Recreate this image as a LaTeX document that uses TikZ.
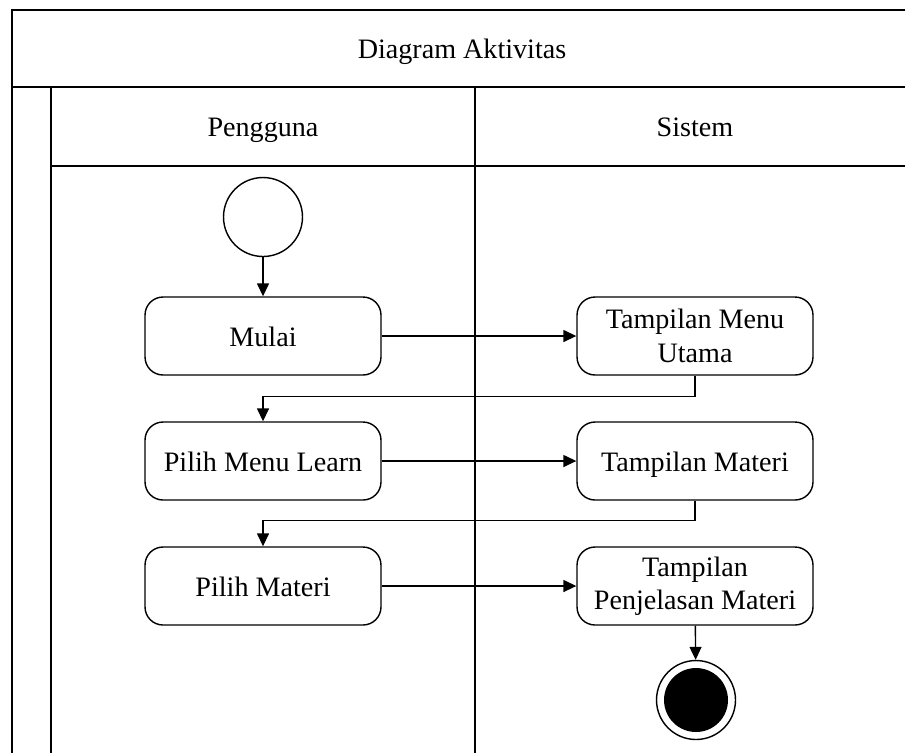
\documentclass[tikz,border=0pt]{standalone}
\usepackage{fontspec}
\setmainfont{Liberation Serif}
\usepackage{tikz}
\usetikzlibrary{shapes,arrows.meta,positioning,calc}

\begin{document}
\begin{tikzpicture}[
  x=0.02cm, y=-0.02cm,
  lane/.style={draw, line width=0.9pt},
  label/.style={font=\fontsize{16}{19}\selectfont, text height=15pt, text depth=3pt},
  activity/.style={draw, rectangle, rounded corners=0.36cm, line width=0.8pt, minimum width=4.72cm, minimum height=1.56cm, align=center, font=\fontsize{16}{19}\selectfont},
  oneline/.style={text height=15pt, text depth=3pt},
  startnode/.style={draw, circle, line width=0.8pt, minimum size=1.58cm, inner sep=0pt},
  endnode/.style={draw, circle, line width=0.8pt, minimum size=1.58cm, inner sep=0pt, path picture={\fill[black] (path picture bounding box.center) circle (0.64cm);}},
  arr/.style={-{Triangle[length=0.26cm, width=0.24cm]}, line width=0.8pt}
]
  \useasboundingbox (0,0) rectangle (905,752);
  \clip (0,0) rectangle (905,752);

  % pool and lanes
  \draw[lane] (12,10) rectangle (920,770);
  \draw[lane] (12,87) -- (920,87);
  \draw[lane] (51,87) -- (51,770);
  \draw[lane] (51,166) -- (920,166);
  \draw[lane] (475,87) -- (475,770);

  \node[label] (title) at (462,48) {Diagram Aktivitas};
  \node[label] (pengguna) at (263,126) {Pengguna};
  \node[label] (sistem) at (695,126) {Sistem};

  % activities
  \node[startnode] (start) at (263,217) {};
  \node[activity, oneline] (mulai) at (263,336) {Mulai};
  \node[activity] (menu) at (695,336) {Tampilan Menu\\Utama};
  \node[activity, oneline] (learn) at (263,461) {Pilih Menu Learn};
  \node[activity, oneline] (tmateri) at (695,461) {Tampilan Materi};
  \node[activity, oneline] (pmateri) at (263,586) {Pilih Materi};
  \node[activity] (jelas) at (695,586) {Tampilan\\Penjelasan Materi};
  \node[endnode] (stop) at (696,700) {};

  \draw[arr] (start) -- (mulai);
  \draw[arr] (mulai) -- (menu);
  \draw[arr] (menu.south) -- ++(0,21) -| (learn.north);
  \draw[arr] (learn) -- (tmateri);
  \draw[arr] (tmateri.south) -- ++(0,20) -| (pmateri.north);
  \draw[arr] (pmateri) -- (jelas);
  \draw[arr] (jelas) -- (stop);
\end{tikzpicture}
\end{document}
